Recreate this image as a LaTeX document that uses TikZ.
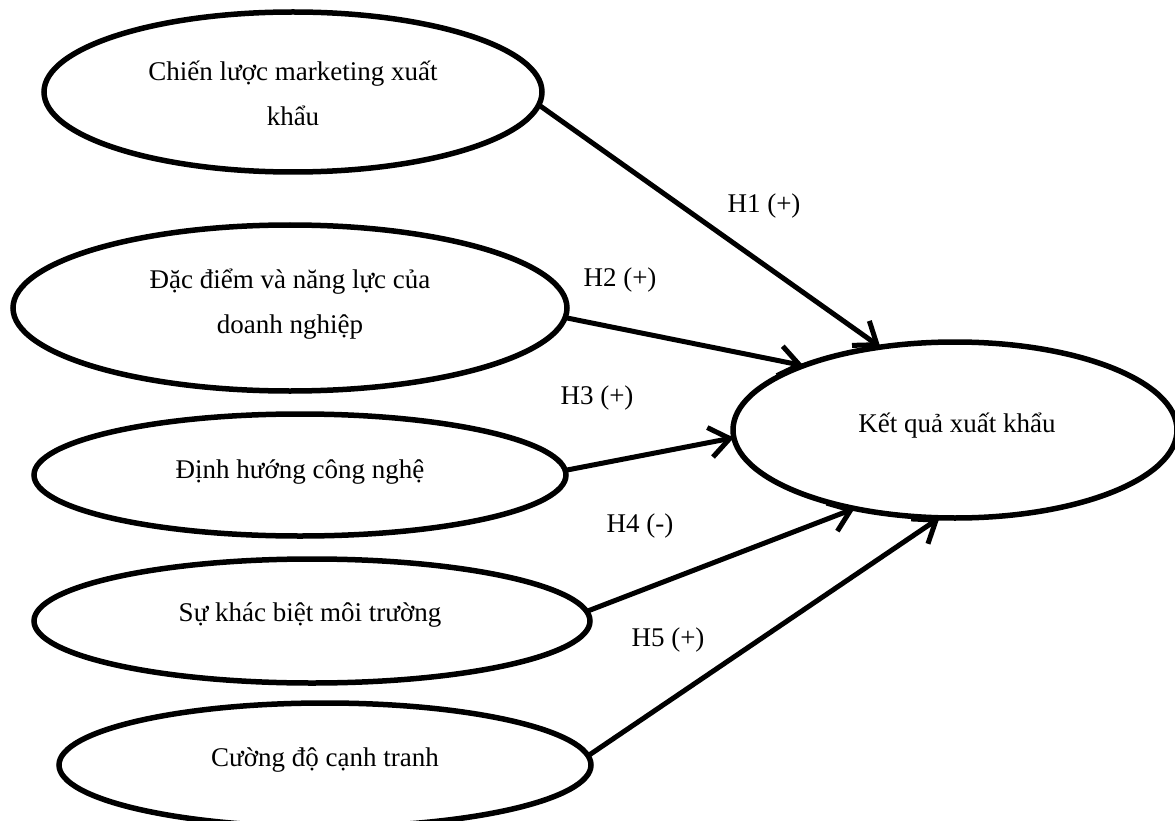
\documentclass[tikz,border=0pt]{standalone}
\usepackage{fontspec}
\setmainfont{Liberation Serif}
\usetikzlibrary{shapes.geometric,arrows.meta}
\begin{document}
\begin{tikzpicture}[x=1pt,y=-1pt,
  oval/.style={draw=black,line width=5.5pt,ellipse,inner sep=0pt,outer sep=0pt},
  lbl/.style={anchor=base,inner sep=0pt,font=\fontsize{27}{30}\selectfont},
  hyp/.style={line width=5pt,-{Straight Barb[length=20pt,width=30pt,line width=5pt]}}]
\useasboundingbox (0,0) rectangle (1175,821);
\node[oval,minimum width=498pt,minimum height=160pt] (e1) at (293,92) {};
\node[oval,minimum width=554pt,minimum height=166pt] (e2) at (290,308) {};
\node[oval,minimum width=532pt,minimum height=122pt] (e3) at (300,475) {};
\node[oval,minimum width=556pt,minimum height=124pt] (e4) at (312,621) {};
\node[oval,minimum width=532pt,minimum height=124pt] (e5) at (325,765) {};
\node[oval,minimum width=444pt,minimum height=176pt] (r) at (955,430) {};
\node[lbl] (t1a) at (293,81) {Chiến lược marketing xuất};
\node[lbl] (t1b) at (293,126) {khẩu};
\node[lbl] (t2a) at (290,288) {Đặc điểm và năng lực của};
\node[lbl] (t2b) at (290,333) {doanh nghiệp};
\node[lbl] (t3) at (300,478) {Định hướng công nghệ};
\node[lbl] (t4) at (310,621) {Sự khác biệt môi trường};
\node[lbl] (t5) at (325,766) {Cường độ cạnh tranh};
\node[lbl] (tr) at (957,432) {Kết quả xuất khẩu};
\node[lbl] (h1) at (764,212) {H1 (+)};
\node[lbl] (h2) at (620,286) {H2 (+)};
\node[lbl] (h3) at (597,404) {H3 (+)};
\node[lbl] (h4) at (640,532) {H4 (-)};
\node[lbl] (h5) at (668,646) {H5 (+)};
\draw[hyp] (e1.-3) -- (r.132.5);
\draw[hyp] (e2.-2.5) -- (r.157.6);
\draw[hyp] (e3.1.3) -- (r.182.6);
\draw[hyp] (e4.2.5) -- (r.218.9);
\draw[hyp] (e5.2.8) -- (r.260.5);
\end{tikzpicture}
\end{document}
